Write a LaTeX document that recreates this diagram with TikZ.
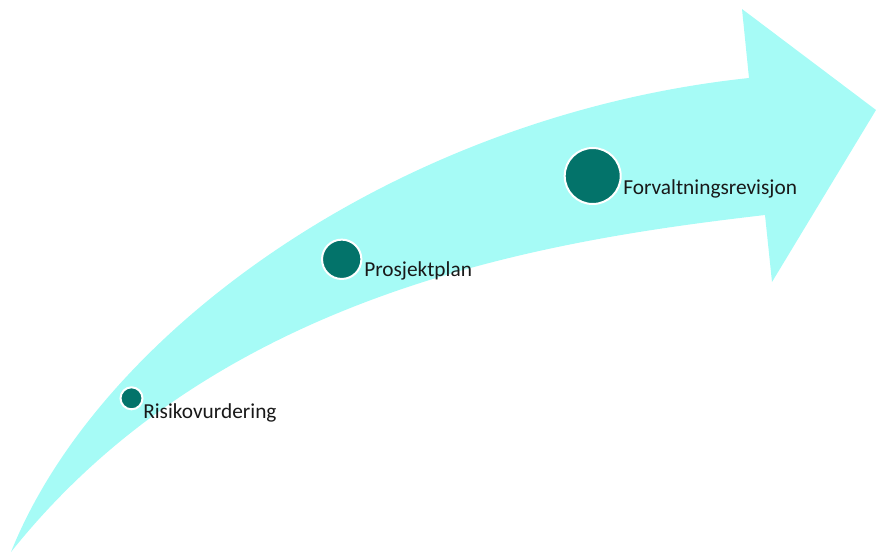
\documentclass[tikz,border=0pt]{standalone}
\usepackage{fontspec}
\setmainfont{Carlito}
\usepackage{xcolor}
\usetikzlibrary{positioning}
\definecolor{arrowcyan}{RGB}{166,251,246}
\definecolor{dotteal}{RGB}{3,115,106}

\begin{document}
\begin{tikzpicture}[x=0.75pt, y=-0.75pt,
    dot/.style={circle, fill=dotteal, draw=white, line width=1.5pt, inner sep=0pt},
    lbl/.style={font=\fontsize{16}{19}\selectfont, text=black!90, inner sep=0pt, anchor=base west}]
    \useasboundingbox (0,0) rectangle (876,553);

    % Curved arrow
    \fill[arrowcyan] (11,552) .. controls (100,330) and (400,115) .. (749,78)
        -- (742,9) -- (876,110) -- (772,282) -- (765,215)
        .. controls (550,240) and (220,290) .. (11,552) -- cycle;

    % Steps
    \node[dot, minimum size=16.5pt] (risk) at (131.5,398.3) {};
    \node[dot, minimum size=29.5pt] (plan) at (341.7,259.3) {};
    \node[dot, minimum size=42pt] (revisjon) at (592.7,176) {};

    % Labels
    \node[lbl] (risk label) at (143,418) {Risikovurdering};
    \node[lbl] (plan label) at (364,276.7) {Prosjektplan};
    \node[lbl] (revisjon label) at (623,194.3) {Forvaltningsrevisjon};
\end{tikzpicture}
\end{document}
